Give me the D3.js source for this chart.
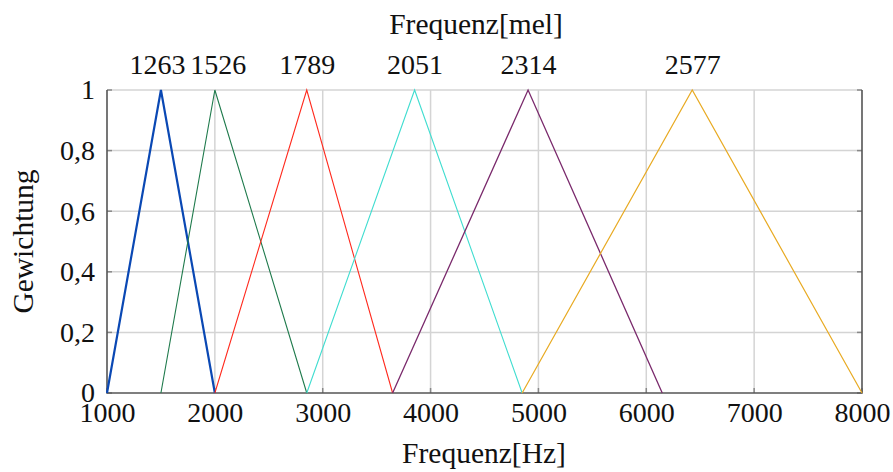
<!DOCTYPE html>
<html>
<head>
<meta charset="utf-8">
<script src="https://cdn.jsdelivr.net/npm/d3@7/dist/d3.min.js"></script>
<style>
  html, body { margin: 0; padding: 0; background: #fff; }
  svg { display: block; }
  svg text { font-family: "Liberation Serif", "Times New Roman", serif; fill: #111; }
</style>
</head>
<body>
<svg id="chart" width="893" height="472"></svg>
<script>
// ---- data ----
const xTicks = [1000, 2000, 3000, 4000, 5000, 6000, 7000, 8000];
const yTicks = [0, 0.2, 0.4, 0.6, 0.8, 1];
const melLabels = ["1263", "1526", "1789", "2051", "2314", "2577"];
const melPositionsHz = [1500, 2000, 2852, 3852, 4904, 6426];
const filterStarts = [1000, 1500, 2000, 2852, 3648, 4849];
const filterPeaks  = [1500, 2000, 2852, 3852, 4904, 6426];
const filterEnds   = [2000, 2852, 3648, 4849, 6148, 8000];
const filterColors = ["#0a48b4", "#1f7a4c", "#ff2a1e", "#40ddd0", "#7a2a6c", "#e8aa22"];
const filterWidths = [2.2, 1.1, 1.1, 1.1, 1.3, 1.2];

const svg = d3.select("#chart");
const W = 893, H = 472;
const margin = { left: 107, right: W - 862, top: 90, bottom: H - 393 };
const x = d3.scaleLinear().domain([1000, 8000]).range([margin.left, W - margin.right]);
const y = d3.scaleLinear().domain([0, 1]).range([H - margin.bottom, margin.top]);

const gridColor = "#d4d4d4";
const axisColor = "#555";
const fs = 28;
const fontStyle = `font-family: 'Liberation Serif', serif; font-size: ${fs}px;`;
const titleStyle = `font-family: 'Liberation Serif', serif; font-size: 29.5px;`;

// grid
svg.append("g").selectAll("line").data(xTicks.slice(1, -1)).join("line")
  .attr("x1", d => x(d)).attr("x2", d => x(d))
  .attr("y1", y(0)).attr("y2", y(1))
  .attr("stroke", gridColor).attr("stroke-width", 1.5);
svg.append("g").selectAll("line").data(yTicks.slice(1)).join("line")
  .attr("x1", x(1000)).attr("x2", x(8000))
  .attr("y1", d => y(d)).attr("y2", d => y(d))
  .attr("stroke", gridColor).attr("stroke-width", 1.5);

// ticks inward
const tickLen = 5;
svg.append("g").selectAll("line").data(xTicks).join("line")
  .attr("x1", d => x(d)).attr("x2", d => x(d))
  .attr("y1", y(0)).attr("y2", y(0) - tickLen)
  .attr("stroke", "#888").attr("stroke-width", 1.5);
svg.append("g").selectAll("line").data(yTicks).join("line")
  .attr("x1", x(1000)).attr("x2", x(1000) + tickLen)
  .attr("y1", d => y(d)).attr("y2", d => y(d))
  .attr("stroke", "#888").attr("stroke-width", 1.5);
svg.append("g").selectAll("line").data(yTicks).join("line")
  .attr("x1", x(8000)).attr("x2", x(8000) - tickLen)
  .attr("y1", d => y(d)).attr("y2", d => y(d))
  .attr("stroke", "#888").attr("stroke-width", 1.5);

// axis lines (left, bottom, right)
svg.append("path")
  .attr("d", `M${x(1000)},${y(1)}V${y(0)}H${x(8000)}V${y(1)}`)
  .attr("fill", "none").attr("stroke", axisColor).attr("stroke-width", 1.6);

// bottom axis labels
const xAxis = d3.axisBottom(x).tickValues(xTicks).tickSize(0).tickPadding(9).tickFormat(d3.format("d"));
const gx = svg.append("g").attr("transform", `translate(0,${y(0)})`).call(xAxis);
gx.attr("font-family", null).attr("font-size", null);
gx.select(".domain").remove();
gx.selectAll("text").attr("style", fontStyle);

// left axis labels
const fmtComma = d => (d === 0 || d === 1) ? String(d) : d3.format(".1f")(d).replace(".", ",");
const yAxis = d3.axisLeft(y).tickValues(yTicks).tickSize(0).tickPadding(12).tickFormat(fmtComma);
const gy = svg.append("g").attr("transform", `translate(${x(1000)},0)`).call(yAxis);
gy.attr("font-family", null).attr("font-size", null);
gy.select(".domain").remove();
gy.selectAll("text").attr("style", fontStyle);

// top mel labels
const labelNudge = [-4, 3, 0, 0, 0, 0];
const xTop = d3.axisTop(x).tickValues(melPositionsHz).tickSize(0).tickPadding(16)
  .tickFormat((d, i) => melLabels[i]);
const gt = svg.append("g").attr("transform", `translate(0,${y(1)})`).call(xTop);
gt.attr("font-family", null).attr("font-size", null);
gt.select(".domain").remove();
gt.selectAll("text").attr("style", fontStyle).attr("dx", (d, i) => labelNudge[i]);

// filters
const line = d3.line().x(d => x(d[0])).y(d => y(d[1]));
filterStarts.forEach((s, i) => {
  svg.append("path")
    .attr("d", line([[s, 0], [filterPeaks[i], 1], [filterEnds[i], 0]]))
    .attr("fill", "none")
    .attr("stroke", filterColors[i])
    .attr("stroke-width", filterWidths[i])
    .attr("stroke-linejoin", "miter");
});

// axis titles
svg.append("text").attr("x", 476).attr("y", 34).attr("text-anchor", "middle")
  .attr("style", titleStyle).text("Frequenz[mel]");
svg.append("text").attr("x", 484).attr("y", 463).attr("text-anchor", "middle")
  .attr("style", titleStyle).text("Frequenz[Hz]");
svg.append("text").attr("transform", `translate(33,${(y(0) + y(1)) / 2}) rotate(-90)`)
  .attr("text-anchor", "middle").attr("style", titleStyle).text("Gewichtung");
</script>
</body>
</html>
